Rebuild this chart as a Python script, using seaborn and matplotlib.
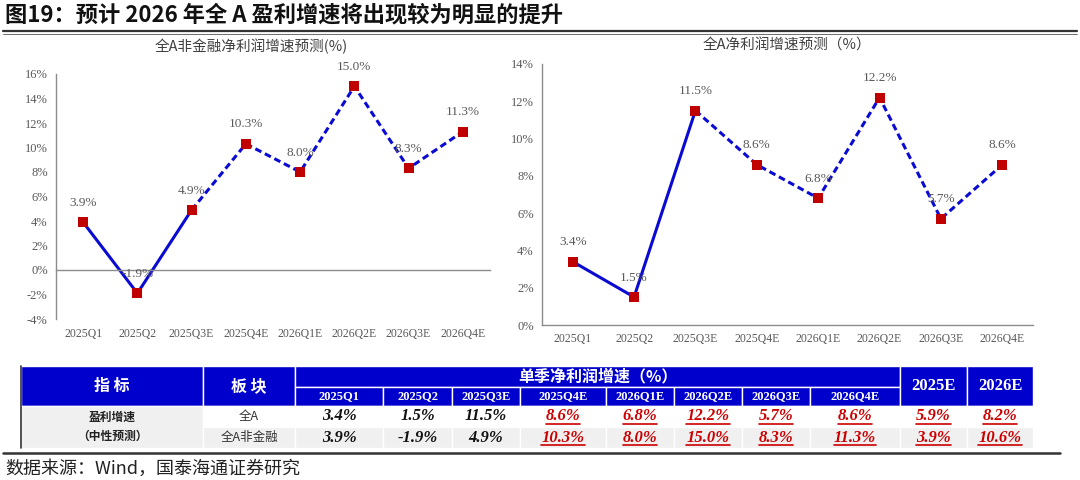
import numpy as np
import pandas as pd
import matplotlib.pyplot as plt
import seaborn as sns
from matplotlib.patches import Rectangle
from matplotlib.ticker import FuncFormatter


quarters = ['2025Q1', '2025Q2', '2025Q3E', '2025Q4E', '2026Q1E', '2026Q2E', '2026Q3E', '2026Q4E']
growth_all_a = [3.4, 1.5, 11.5, 8.6, 6.8, 12.2, 5.7, 8.6]
growth_non_fin = [3.9, -1.9, 4.9, 10.3, 8.0, 15.0, 8.3, 11.3]
years = ['2025E', '2026E']
annual_all_a = [5.9, 8.2]
annual_non_fin = [3.9, 10.6]
n_solid = 3  # first three quarters drawn solid / printed black

title = '图19：预计 2026 年全 A 盈利增速将出现较为明显的提升'
left_title = '全A非金融净利润增速预测(%)'
right_title = '全A净利润增速预测（%）'
source = '数据来源：Wind，国泰海通证券研究'

BLUE = '#0A0AD2'
HEAD_BLUE = '#0000CC'
RED = '#C00000'
GREY = '#595959'
CJK = ['Noto Sans CJK SC', 'DejaVu Sans']
SERIF = ['Liberation Serif', 'Noto Sans CJK SC']

sns.set_style('white')
plt.rcParams['font.family'] = CJK

W, H = 1080, 480
fig = plt.figure(figsize=(10.8, 4.8), dpi=100)


def px_rect(x0, y0, x1, y1):
    return [x0 / W, 1 - y1 / H, (x1 - x0) / W, (y1 - y0) / H]


# overlay axes in pixel units for title, table, source
ax_t = fig.add_axes([0, 0, 1, 1])
ax_t.set_xlim(0, W)
ax_t.set_ylim(H, 0)
ax_t.axis('off')


def segments(vals):
    rows = []
    for i, v in enumerate(vals):
        if i < n_solid:
            rows.append((i, v, 'solid'))
        if i >= n_solid - 1:
            rows.append((i, v, 'dash'))
    return pd.DataFrame(rows, columns=['x', 'y', 'seg'])


def draw_chart(ax, vals, ylim, zero_axis):
    df = segments(vals)
    sns.lineplot(data=df, x='x', y='y', style='seg', dashes={'solid': '', 'dash': (2.2, 1.3)},
                 color=BLUE, lw=2.2, legend=False, sort=False, estimator=None, ax=ax)
    sns.scatterplot(x=list(range(len(vals))), y=vals, marker='s', s=48, color=RED,
                    edgecolor=RED, linewidth=0, zorder=3, ax=ax)
    for i, v in enumerate(vals):
        ax.annotate(f'{v:.1f}%', (i, v), xytext=(0, 14), textcoords='offset points',
                    ha='center', va='center', fontsize=9.5, color=GREY, family=SERIF)
    ax.set_xlim(-0.5, len(vals) - 0.5)
    ax.set_ylim(*ylim)
    ax.set_yticks(np.arange(ylim[0], ylim[1] + 1, 2))
    ax.yaxis.set_major_formatter(FuncFormatter(lambda v, p: f'{v:.0f}%'))
    ax.set_xticks(range(len(vals)))
    ax.set_xticklabels(quarters)
    ax.set_xticks(np.arange(-0.5, len(vals), 1), minor=True)
    ax.set_xlabel('')
    ax.set_ylabel('')
    for s in ['top', 'right']:
        ax.spines[s].set_visible(False)
    for s in ['left', 'bottom']:
        ax.spines[s].set_color('#8C8C8C')
        ax.spines[s].set_linewidth(1)
    pad = 6
    if zero_axis:
        ax.spines['bottom'].set_position(('data', 0))
        pad = 42
    ax.tick_params(axis='x', which='major', length=0, pad=pad, labelsize=8.5, labelcolor=GREY)
    ax.tick_params(axis='x', which='minor', length=4, color='#8C8C8C', direction='out')
    ax.tick_params(axis='y', length=3, color='#8C8C8C', direction='out', pad=3,
                   labelsize=9, labelcolor=GREY)
    for lab in ax.get_xticklabels() + ax.get_yticklabels():
        lab.set_family(SERIF)
    ax.patch.set_visible(False)


ax_l = fig.add_axes(px_rect(56, 74, 490, 319))
draw_chart(ax_l, growth_non_fin, (-4, 16), True)
ax_r = fig.add_axes(px_rect(542, 64, 1033, 325))
draw_chart(ax_r, growth_all_a, (0, 14), False)

# header title and rule
ax_t.text(5, 15, title, fontsize=16, fontweight='bold', color='#111111', va='center', ha='left')
ax_t.plot([3, 1077], [31, 31], color='#333333', lw=1.6)
ax_t.plot([3, 1077], [34, 34], color='#333333', lw=0.5)
ax_t.text(251, 46, left_title, fontsize=10.5, color='#404040', ha='center', va='center')
ax_t.text(787, 46, right_title, fontsize=10.5, color='#404040', ha='center', va='center')

# table
col_edges = [21, 203, 295, 383, 452, 520, 606, 674, 742, 810, 900, 967, 1033]
row_edges = [366, 387, 406, 427, 448]


def cell(c0, c1, r0, r1, face, text=None, edge='white', **kw):
    x0, x1 = col_edges[c0], col_edges[c1]
    y0, y1 = row_edges[r0], row_edges[r1]
    ax_t.add_patch(Rectangle((x0, y0), x1 - x0, y1 - y0, facecolor=face, edgecolor=edge, lw=1))
    if text is not None:
        return ax_t.text((x0 + x1) / 2, (y0 + y1) / 2, text, ha='center', va='center', **kw)


head = dict(color='white', fontweight='bold')
cell(0, 1, 0, 2, HEAD_BLUE, '指 标', fontsize=11.5, **head)
cell(1, 2, 0, 2, HEAD_BLUE, '板 块', fontsize=11.5, **head)
cell(2, 10, 0, 1, HEAD_BLUE, '单季净利润增速（%）', fontsize=11.5, **head)
for i, q in enumerate(quarters):
    cell(2 + i, 3 + i, 1, 2, HEAD_BLUE, q, fontsize=9, family=SERIF, **head)
for i, y in enumerate(years):
    cell(10 + i, 11 + i, 0, 2, HEAD_BLUE, y, fontsize=12, family=SERIF, **head)

LIGHT = '#F0F0F0'
cell(0, 1, 2, 4, LIGHT, '盈利增速\n（中性预测）', fontsize=8.5, fontweight='bold',
     color='#222222', linespacing=1.6)
cell(1, 2, 2, 3, 'white', '全A', fontsize=9, color='#333333')
cell(1, 2, 3, 4, LIGHT, '全A非金融', fontsize=9, color='#333333')

red_texts = []
for r, (qvals, yvals, face) in enumerate([(growth_all_a, annual_all_a, 'white'),
                                          (growth_non_fin, annual_non_fin, LIGHT)]):
    vals = list(qvals) + list(yvals)
    for i, v in enumerate(vals):
        is_red = i >= n_solid
        t = cell(2 + i, 3 + i, 2 + r, 3 + r, face, f'{v:.1f}%', fontsize=12,
                 fontweight='bold', fontstyle='italic', family=SERIF,
                 color='#CC0000' if is_red else '#111111')
        if is_red:
            red_texts.append(t)

ax_t.plot([21, 21], [366, 448], color='#333333', lw=1.2)
ax_t.plot([3, 1060], [453, 453], color='#333333', lw=1.8)
ax_t.text(5, 469, source, fontsize=13, color='#222222', ha='left', va='center')

# underline red values
fig.canvas.draw()
renderer = fig.canvas.get_renderer()
inv = ax_t.transData.inverted()
for t in red_texts:
    bb = t.get_window_extent(renderer)
    (xa, ya), (xb, _) = inv.transform([(bb.x0, bb.y0 + 1), (bb.x1, bb.y0 + 1)])
    ax_t.plot([xa, xb], [ya, ya], color='#CC0000', lw=1.2)

fig.savefig('out.png', dpi=100)
